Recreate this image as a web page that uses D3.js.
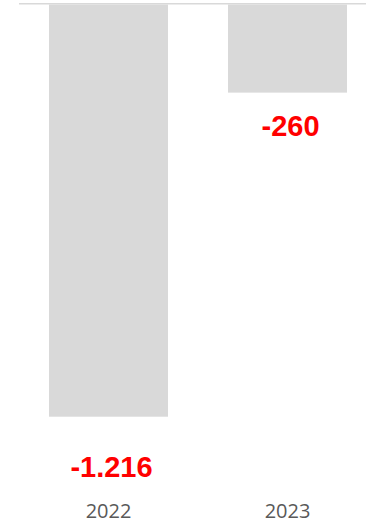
<!DOCTYPE html>
<html><head><meta charset="utf-8">
<script src="https://cdn.jsdelivr.net/npm/d3@7"></script>
<style>html,body{margin:0;padding:0;background:#fff;}svg{display:block;}</style>
</head><body>
<script>
const categories = ["2022", "2023"];
const values = [-1216, -260];
const valueLabels = ["-1.216", "-260"];

const W = 367, H = 523;
const svg = d3.select("body").append("svg").attr("width", W).attr("height", H);

const x = d3.scaleBand().domain(categories).range([19, 377]).paddingInner(0.335).paddingOuter(0.1675);
const y = d3.scaleLinear().domain([0, -1216]).range([4.5, 416.7]);

svg.selectAll("rect.bar").data(values).enter().append("rect")
  .attr("class", "bar")
  .attr("x", (d, i) => x(categories[i]))
  .attr("width", x.bandwidth())
  .attr("y", y(0))
  .attr("height", d => y(d) - y(0))
  .attr("fill", "#d9d9d9");

svg.append("line").attr("x1", 19).attr("x2", 366).attr("y1", 3.8).attr("y2", 3.8)
  .attr("stroke", "#d9d9d9").attr("stroke-width", 1.5);

const labelOffsets = [60, 43];
svg.selectAll("text.val").data(values).enter().append("text")
  .attr("class", "val")
  .attr("x", (d, i) => x(categories[i]) + x.bandwidth() / 2 + 3)
  .attr("y", (d, i) => y(d) + labelOffsets[i])
  .attr("text-anchor", "middle")
  .attr("font-family", "Liberation Sans, Arial, sans-serif")
  .attr("font-weight", "bold")
  .attr("font-size", 29)
  .attr("fill", "#ff0000")
  .text((d, i) => valueLabels[i]);

svg.selectAll("text.cat").data(categories).enter().append("text")
  .attr("class", "cat")
  .attr("x", d => x(d) + x.bandwidth() / 2)
  .attr("y", 518)
  .attr("text-anchor", "middle")
  .attr("font-family", "Open Sans, sans-serif")
  .attr("font-size", 20)
  .attr("fill", "#595959")
  .text(d => d);
</script>
</body></html>
